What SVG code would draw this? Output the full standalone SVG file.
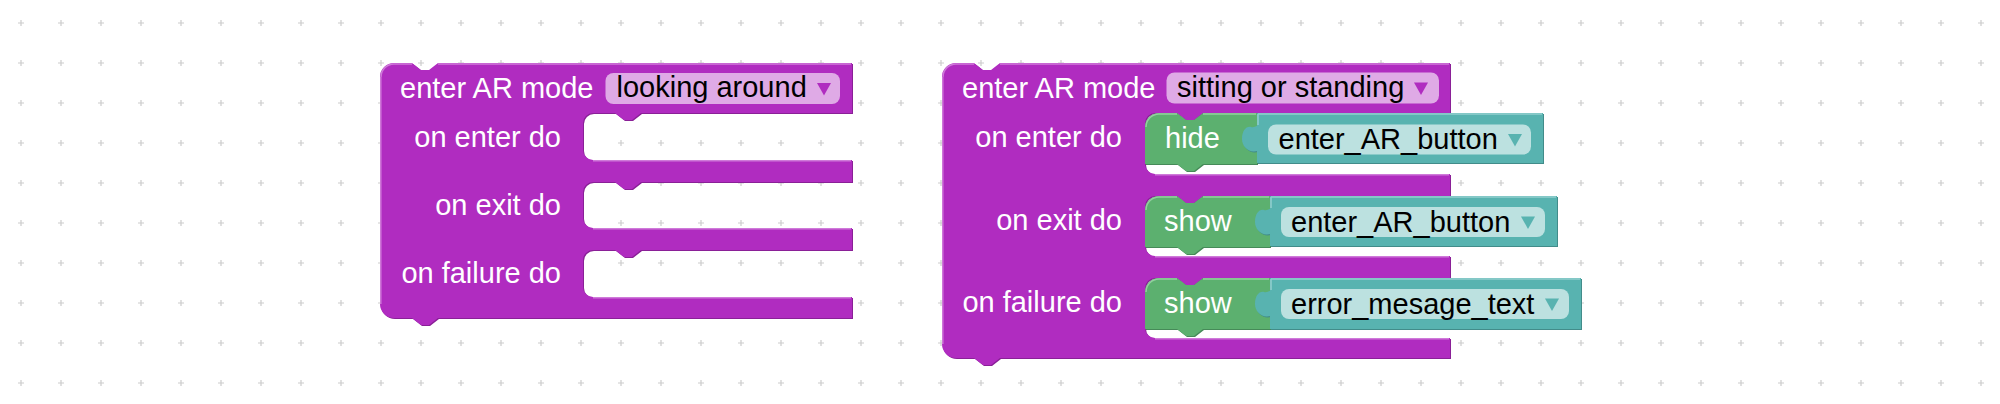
<svg xmlns="http://www.w3.org/2000/svg" width="2000" height="404" viewBox="0 0 2000 404">
<defs>
<pattern id="grid" patternUnits="userSpaceOnUse" x="1" y="3" width="40" height="40">
<path d="M17 20h6M20 17v6" stroke="#cccccc" stroke-width="1.2" fill="none"/>
</pattern>
</defs>
<style>
.txt{font-family:"Liberation Sans",Arial,"Noto Sans",sans-serif;font-size:29px}
.w{fill:#ffffff}
.k{fill:#000000}
.purple{fill:#b02cc0}
.purpleDark{fill:#8a2097}
.purpleLight{stroke:#cf7ad9;stroke-width:1.5;fill:none}
.green{fill:#5cb06f}
.greenDark{fill:#468a58}
.greenLight{stroke:#92cf9f;stroke-width:1.5;fill:none}
.teal{fill:#58b3b0}
.tealDark{fill:#428c8a}
.tealLight{stroke:#92d0ce;stroke-width:1.5;fill:none}
.pfield{fill:#dfaae6}
.tfield{fill:#bce1e0}
.parrow{fill:#b02cc0}
.tarrow{fill:#58b3b0}
</style>
<rect width="2000" height="404" fill="#ffffff"/>
<rect width="2000" height="404" fill="url(#grid)"/>

<g id="connectors"></g>

<g id="block1">
<path class="purpleDark" transform="translate(1,1)" d="M380,77 a14,14 0 0 1 14,-14 H412 l9,7 h8 l9,-7 H852 V113 H641 l-9,7 h-8 l-9,-7 H593 a10,10 0 0 0 -10,10 V150 a10,10 0 0 0 10,10 H852 V182 H641 l-9,7 h-8 l-9,-7 H593 a10,10 0 0 0 -10,10 V218 a10,10 0 0 0 10,10 H852 V250 H641 l-9,7 h-8 l-9,-7 H593 a10,10 0 0 0 -10,10 V287 a10,10 0 0 0 10,10 H852 V318 H438 l-9,7 h-8 l-9,-7 H394 a14,14 0 0 1 -14,-14 Z"/>
<path class="purple" d="M380,77 a14,14 0 0 1 14,-14 H412 l9,7 h8 l9,-7 H852 V113 H641 l-9,7 h-8 l-9,-7 H593 a10,10 0 0 0 -10,10 V150 a10,10 0 0 0 10,10 H852 V182 H641 l-9,7 h-8 l-9,-7 H593 a10,10 0 0 0 -10,10 V218 a10,10 0 0 0 10,10 H852 V250 H641 l-9,7 h-8 l-9,-7 H593 a10,10 0 0 0 -10,10 V287 a10,10 0 0 0 10,10 H852 V318 H438 l-9,7 h-8 l-9,-7 H394 a14,14 0 0 1 -14,-14 Z"/>
<path class="purpleLight" d="M381,77 a13,13 0 0 1 13,-13 H412 M438,64 H851 M593,160.8 H851 M593,228.8 H851 M593,297.8 H851 M380.8,77 V304"/>
<text class="txt w" x="400" y="97.5">enter AR mode</text>
<rect class="pfield" x="605.5" y="73" width="234.5" height="31" rx="8"/>
<text class="txt k" x="616.5" y="97">looking around</text>
<polygon class="parrow" points="817,83 831,83 824,95.5"/>
<text class="txt w" x="561" y="146.5" text-anchor="end">on enter do</text>
<text class="txt w" x="561" y="215" text-anchor="end">on exit do</text>
<text class="txt w" x="561" y="283" text-anchor="end">on failure do</text>
</g>

<g id="block2">
<path class="purpleDark" transform="translate(1,1)" d="M942,77 a14,14 0 0 1 14,-14 H974 l9,7 h8 l9,-7 H1450 V113 H1203 l-9,7 h-8 l-9,-7 H1155 a10,10 0 0 0 -10,10 V164 a10,10 0 0 0 10,10 H1450 V196 H1203 l-9,7 h-8 l-9,-7 H1155 a10,10 0 0 0 -10,10 V246 a10,10 0 0 0 10,10 H1450 V278 H1203 l-9,7 h-8 l-9,-7 H1155 a10,10 0 0 0 -10,10 V328 a10,10 0 0 0 10,10 H1450 V358 H1000 l-9,7 h-8 l-9,-7 H956 a14,14 0 0 1 -14,-14 Z"/>
<path class="purple" d="M942,77 a14,14 0 0 1 14,-14 H974 l9,7 h8 l9,-7 H1450 V113 H1203 l-9,7 h-8 l-9,-7 H1155 a10,10 0 0 0 -10,10 V164 a10,10 0 0 0 10,10 H1450 V196 H1203 l-9,7 h-8 l-9,-7 H1155 a10,10 0 0 0 -10,10 V246 a10,10 0 0 0 10,10 H1450 V278 H1203 l-9,7 h-8 l-9,-7 H1155 a10,10 0 0 0 -10,10 V328 a10,10 0 0 0 10,10 H1450 V358 H1000 l-9,7 h-8 l-9,-7 H956 a14,14 0 0 1 -14,-14 Z"/>
<path class="purpleLight" d="M943,77 a13,13 0 0 1 13,-13 H974 M1000,64 H1449 M1155,174.8 H1449 M1155,256.8 H1449 M1155,338.8 H1449 M942.8,77 V344"/>
<text class="txt w" x="962" y="97.5">enter AR mode</text>
<rect class="pfield" x="1166.5" y="72.5" width="272.5" height="31" rx="8"/>
<text class="txt k" x="1177" y="97">sitting or standing</text>
<polygon class="parrow" points="1414,82.5 1428,82.5 1421,95"/>
<text class="txt w" x="1122" y="147" text-anchor="end">on enter do</text>
<text class="txt w" x="1122" y="230" text-anchor="end">on exit do</text>
<text class="txt w" x="1122" y="312" text-anchor="end">on failure do</text>
</g>

<g id="hide_block">
<path class="greenDark" transform="translate(1,1)" d="M1145,127 a14,14 0 0 1 14,-14 H1177 l9,7 h8 l9,-7 H1257 V164 H1203 l-9,7 h-8 l-9,-7 H1145 Z"/>
<path class="green" d="M1145,127 a14,14 0 0 1 14,-14 H1177 l9,7 h8 l9,-7 H1257 V164 H1203 l-9,7 h-8 l-9,-7 H1145 Z"/>
<path class="greenLight" d="M1146,127 a13,13 0 0 1 13,-13 H1177 M1203,114 H1256"/>
<text class="txt w" x="1165" y="148">hide</text>
</g>

<g id="var_enter_AR_button_1">
<path class="tealDark" transform="translate(1,1)" d="M1257,113 H1543 V163 H1257 V151 C1249,153 1242,147 1242,139 C1242,131 1246,126 1251,127 C1254,128 1255,126 1257,126 Z"/>
<path class="teal" d="M1257,113 H1543 V163 H1257 V151 C1249,153 1242,147 1242,139 C1242,131 1246,126 1251,127 C1254,128 1255,126 1257,126 Z"/>
<path class="tealLight" d="M1258,114 H1542 M1258,114 V125"/>
<rect class="tfield" x="1268" y="124.5" width="263" height="30" rx="8"/>
<text class="txt k" x="1278.5" y="149">enter_AR_button</text>
<polygon class="tarrow" points="1508,134 1522,134 1515,146.5"/>
</g>

<g id="show_block_1">
<path class="greenDark" transform="translate(1,1)" d="M1145,210 a14,14 0 0 1 14,-14 H1177 l9,7 h8 l9,-7 H1270 V247 H1203 l-9,7 h-8 l-9,-7 H1145 Z"/>
<path class="green" d="M1145,210 a14,14 0 0 1 14,-14 H1177 l9,7 h8 l9,-7 H1270 V247 H1203 l-9,7 h-8 l-9,-7 H1145 Z"/>
<path class="greenLight" d="M1146,210 a13,13 0 0 1 13,-13 H1177 M1203,197 H1269"/>
<text class="txt w" x="1164" y="231">show</text>
</g>

<g id="var_enter_AR_button_2">
<path class="tealDark" transform="translate(1,1)" d="M1270,196 H1557 V246 H1270 V234 C1262,236 1255,230 1255,222 C1255,214 1259,209 1264,210 C1267,211 1268,209 1270,209 Z"/>
<path class="teal" d="M1270,196 H1557 V246 H1270 V234 C1262,236 1255,230 1255,222 C1255,214 1259,209 1264,210 C1267,211 1268,209 1270,209 Z"/>
<path class="tealLight" d="M1271,197 H1556 M1271,197 V208"/>
<rect class="tfield" x="1281" y="207" width="264" height="30" rx="8"/>
<text class="txt k" x="1291" y="231.5">enter_AR_button</text>
<polygon class="tarrow" points="1521,216.5 1535,216.5 1528,229"/>
</g>

<g id="show_block_2">
<path class="greenDark" transform="translate(1,1)" d="M1145,292 a14,14 0 0 1 14,-14 H1177 l9,7 h8 l9,-7 H1270 V329 H1203 l-9,7 h-8 l-9,-7 H1145 Z"/>
<path class="green" d="M1145,292 a14,14 0 0 1 14,-14 H1177 l9,7 h8 l9,-7 H1270 V329 H1203 l-9,7 h-8 l-9,-7 H1145 Z"/>
<path class="greenLight" d="M1146,292 a13,13 0 0 1 13,-13 H1177 M1203,279 H1269"/>
<text class="txt w" x="1164" y="313">show</text>
</g>

<g id="var_error_mesage_text">
<path class="tealDark" transform="translate(1,1)" d="M1270,278 H1581 V329 H1270 V316 C1262,318 1255,312 1255,304 C1255,296 1259,291 1264,292 C1267,293 1268,291 1270,291 Z"/>
<path class="teal" d="M1270,278 H1581 V329 H1270 V316 C1262,318 1255,312 1255,304 C1255,296 1259,291 1264,292 C1267,293 1268,291 1270,291 Z"/>
<path class="tealLight" d="M1271,279 H1580 M1271,279 V290"/>
<rect class="tfield" x="1281" y="289" width="288" height="30" rx="8"/>
<text class="txt k" x="1291" y="313.5">error_mesage_text</text>
<polygon class="tarrow" points="1545,298.5 1559,298.5 1552,311"/>
</g>
</svg>
